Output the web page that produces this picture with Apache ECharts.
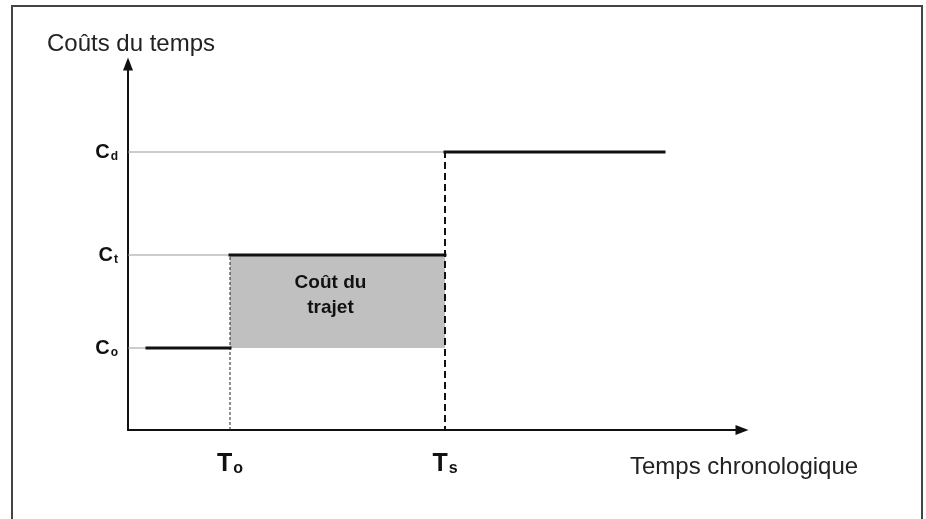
<!DOCTYPE html>
<html>
<head>
<meta charset="utf-8">
<script src="https://cdn.jsdelivr.net/npm/echarts@6/dist/echarts.min.js"></script>
<style>
  html, body { margin: 0; padding: 0; background: #fff; }
  #chart { width: 926px; height: 519px; }
</style>
</head>
<body>
<div id="chart"></div>
<script>
// niveaux de coût (Co, Ct, Cd) et instants (To, Ts)
const costLevels = [82, 175, 278];
const costSubs = ['o', 't', 'd'];
const timeMarks = [102, 317];
const timeSubs = ['o', 's'];
// paliers : début, fin, niveau
const stepStart = [19, 102, 317];
const stepEnd = [102, 317, 536];
const stepLevel = [82, 175, 278];

const font = 'Arial, "Liberation Sans", sans-serif';

const chart = echarts.init(document.getElementById('chart'), null, { renderer: 'canvas' });

const series = [];

// lignes guides grises
stepLevel.forEach((lv, i) => {
  series.push({
    type: 'line',
    data: [[0, lv], [stepStart[i], lv]],
    symbol: 'none',
    silent: true,
    z: 1,
    lineStyle: { color: '#999', width: 1 }
  })
})

// zone grisée : coût du trajet
series.push({
  type: 'line',
  data: [],
  markArea: {
    silent: true,
    itemStyle: { color: '#c0c0c0' },
    label: {
      show: true,
      position: 'inside',
      formatter: 'Coût du\ntrajet',
      fontFamily: font,
      fontWeight: 'bold',
      fontSize: 19,
      lineHeight: 25,
      color: '#111',
      offset: [-7, -6]
    },
    data: [[{ coord: [timeMarks[0], costLevels[0]] }, { coord: [timeMarks[1], costLevels[1]] }]]
  }
})

// pointillés verticaux
series.push({
  type: 'line',
  data: [[timeMarks[0], 0], [timeMarks[0], costLevels[1]]],
  symbol: 'none',
  z: 3,
  lineStyle: { color: '#222', width: 1, type: [3, 2] }
})
series.push({
  type: 'line',
  data: [[timeMarks[1], -3], [timeMarks[1], costLevels[2]]],
  symbol: 'none',
  z: 3,
  lineStyle: { color: '#111', width: 2, type: [7, 4] }
})

// paliers noirs
stepLevel.forEach((lv, i) => {
  series.push({
    type: 'line',
    data: [[stepStart[i], lv], [stepEnd[i], lv]],
    symbol: 'none',
    z: 4,
    lineStyle: { color: '#111', width: 3, cap: 'square' }
  })
})

const axisLine = {
  show: true,
  symbol: ['none', 'triangle'],
  symbolSize: [10, 13],
  symbolOffset: [0, 0],
  lineStyle: { color: '#111', width: 2 }
};

chart.setOption({
  animation: false,
  grid: { left: 128, right: 184, top: 64, bottom: 89 },
  xAxis: {
    type: 'value',
    min: 0,
    max: 614,
    splitLine: { show: false },
    axisTick: { show: false },
    axisLine: axisLine,
    axisLabel: {
      customValues: timeMarks,
      margin: 21,
      formatter: v => '{t|T}{s|' + timeSubs[timeMarks.indexOf(v)] + '}',
      rich: {
        t: { fontFamily: font, fontWeight: 'bold', fontSize: 25, color: '#111' },
        s: { fontFamily: font, fontWeight: 'bold', fontSize: 16, color: '#111', padding: [10, 0, 0, 1] }
      }
    }
  },
  yAxis: {
    type: 'value',
    min: 0,
    max: 366,
    name: 'Coûts du temps',
    nameLocation: 'end',
    nameGap: 8,
    nameTextStyle: { fontFamily: font, fontSize: 24, color: '#222', align: 'center', padding: [0, 0, 0, 6] },
    splitLine: { show: false },
    axisTick: { show: false },
    axisLine: axisLine,
    axisLabel: {
      customValues: costLevels,
      margin: 10,
      formatter: v => '{c|C}{s|' + costSubs[costLevels.indexOf(v)] + '}',
      rich: {
        c: { fontFamily: font, fontWeight: 'bold', fontSize: 20, color: '#111' },
        s: { fontFamily: font, fontWeight: 'bold', fontSize: 12, color: '#111', padding: [9, 0, 0, 1] }
      }
    }
  },
  graphic: [
    {
      type: 'rect',
      shape: { x: 12, y: 6, width: 910, height: 530 },
      style: { fill: 'none', stroke: '#444', lineWidth: 2 },
      z: 0
    },
    {
      type: 'text',
      left: 630,
      top: 455,
      style: { text: 'Temps chronologique', fontFamily: font, fontSize: 24, fill: '#222' }
    }
  ],
  series: series
});
</script>
</body>
</html>
